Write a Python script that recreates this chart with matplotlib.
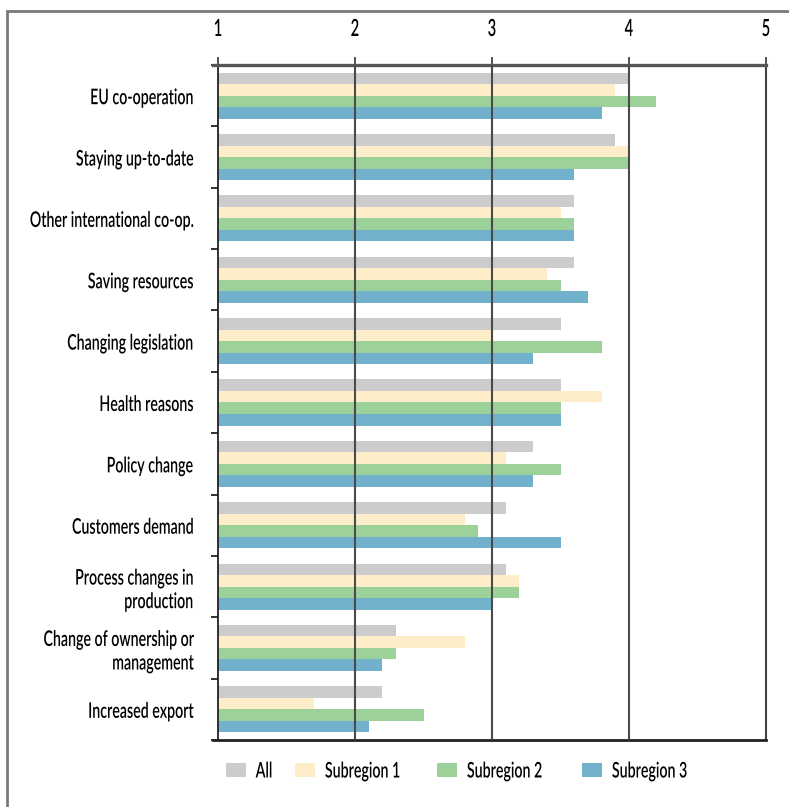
import matplotlib
matplotlib.use("Agg")
import matplotlib.pyplot as plt
from matplotlib.patches import Patch, Rectangle
from matplotlib.patheffects import AbstractPathEffect
from matplotlib.transforms import Affine2D
import numpy as np

plt.rcParams["font.family"] = ["Lato", "DejaVu Sans"]

categories = [
    "EU co-operation",
    "Staying up-to-date",
    "Other international co-op.",
    "Saving resources",
    "Changing legislation",
    "Health reasons",
    "Policy change",
    "Customers demand",
    "Process changes in\nproduction",
    "Change of ownership or\nmanagement",
    "Increased export",
]
series_names = ["All", "Subregion 1", "Subregion 2", "Subregion 3"]
all_vals = [4.0, 3.9, 3.6, 3.6, 3.5, 3.5, 3.3, 3.1, 3.1, 2.3, 2.2]
sub1_vals = [3.9, 4.0, 3.5, 3.4, 3.0, 3.8, 3.1, 2.8, 3.2, 2.8, 1.7]
sub2_vals = [4.2, 4.0, 3.6, 3.5, 3.8, 3.5, 3.5, 2.9, 3.2, 2.3, 2.5]
sub3_vals = [3.8, 3.6, 3.6, 3.7, 3.3, 3.5, 3.3, 3.5, 3.0, 2.2, 2.1]
x_ticks = [1, 2, 3, 4, 5]
colors = ["#cccccc", "#fdedc8", "#9cd19a", "#72b1cb"]


class Condensed(AbstractPathEffect):
    """Squeeze glyph outlines horizontally about a chosen anchor."""

    def __init__(self, factor=0.7, anchor="left"):
        super().__init__()
        self.factor = factor
        self.anchor = anchor

    def draw_path(self, renderer, gc, tpath, affine, rgbFace=None):
        ext = tpath.get_extents()
        if self.anchor == "right":
            cx = ext.x1
        elif self.anchor == "center":
            cx = 0.5 * (ext.x0 + ext.x1)
        else:
            cx = ext.x0
        squeeze = Affine2D().translate(-cx, 0).scale(self.factor, 1).translate(cx, 0)
        renderer.draw_path(gc, tpath, squeeze + affine, rgbFace)


SQUEEZE = 0.66
FS = 15.5
WEIGHT = "semibold"

W, H = 789, 807
fig = plt.figure(figsize=(W / 100, H / 100), dpi=100)

# outer frame (open at right and bottom edges)
fig.patches.append(Rectangle((7 / W, -0.1), 1.2, 1 - 10.5 / H + 0.1,
                             transform=fig.transFigure, fill=False,
                             edgecolor="#7a7a7a", linewidth=2.0))

ax = fig.add_axes([218 / W, 1 - 740 / H, (766 - 218) / W, (740 - 65) / H])

n = len(categories)
bar_h = 0.1875
series = [all_vals, sub1_vals, sub2_vals, sub3_vals]
y0 = np.arange(n)
for i, (vals, c, name) in enumerate(zip(series, colors, series_names)):
    ypos = y0 + (i - 1.5) * bar_h
    ax.barh(ypos, np.array(vals) - 1, left=1, height=bar_h, color=c,
            label=name, zorder=1)

ax.set_xlim(1, 5)
ax.set_ylim(n - 0.5, -0.5)

for xv in x_ticks[1:4]:
    ax.axvline(xv, color="#4a4a4a", linewidth=1.5, zorder=3)

ax.xaxis.tick_top()
ax.set_xticks(x_ticks)
ax.set_xticklabels([str(v) for v in x_ticks], fontsize=17, fontweight=WEIGHT)
ax.tick_params(axis="x", length=6, width=1.3, color="#444444", pad=12,
               direction="out")
for lbl in ax.get_xticklabels():
    lbl.set_path_effects([Condensed(0.62, "center")])

ax.set_yticks(np.arange(n))
ax.set_yticklabels(categories, fontsize=FS, fontweight=WEIGHT, linespacing=1.15)
ax.tick_params(axis="y", length=0, pad=18)
for lbl in ax.get_yticklabels():
    lbl.set_path_effects([Condensed(SQUEEZE, "right")])
ax.set_yticks(np.arange(n + 1) - 0.5, minor=True)
ax.tick_params(axis="y", which="minor", length=5, width=1.3, color="#222222")

ax.spines["top"].set_color("#555555")
ax.spines["top"].set_linewidth(2.4)
ax.spines["top"].set_bounds(0.96, 5)
ax.spines["right"].set_color("#444444")
ax.spines["right"].set_linewidth(1.5)
ax.spines["left"].set_color("#222222")
ax.spines["left"].set_linewidth(1.3)
ax.spines["bottom"].set_color("#222222")
ax.spines["bottom"].set_linewidth(2.0)
ax.spines["bottom"].set_bounds(0.96, 5)

# legend entries, one per series
legend_x = [226, 295, 437, 582]
for x, c, name in zip(legend_x, colors, series_names):
    leg = fig.legend([Patch(facecolor=c, edgecolor="none")], [name],
                     loc="center left", bbox_to_anchor=(x / W, 1 - 771 / H),
                     frameon=False, borderpad=0, borderaxespad=0,
                     prop={"size": FS, "weight": WEIGHT},
                     handlelength=0.93, handleheight=0.6, handletextpad=0.45)
    for t in leg.get_texts():
        t.set_path_effects([Condensed(SQUEEZE, "left")])

fig.savefig("out.png", dpi=100)
